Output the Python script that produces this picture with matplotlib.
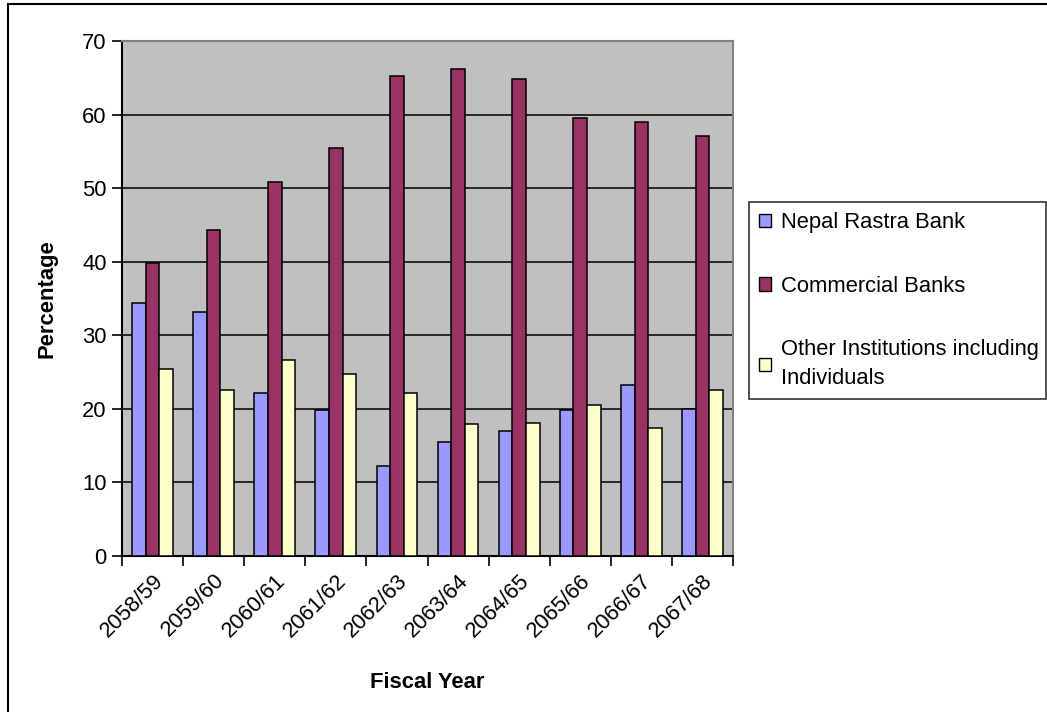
import matplotlib
matplotlib.use("Agg")
import matplotlib.pyplot as plt
from matplotlib.patches import Rectangle, Patch
import numpy as np

plt.rcParams['font.family'] = ['Liberation Sans', 'DejaVu Sans']

years = ["2058/59", "2059/60", "2060/61", "2061/62", "2062/63",
         "2063/64", "2064/65", "2065/66", "2066/67", "2067/68"]
nepal_rastra_bank = [34.4, 33.1, 22.1, 19.8, 12.3, 15.5, 17.0, 19.8, 23.3, 20.0]
commercial_banks = [39.8, 44.3, 50.8, 55.5, 65.3, 66.2, 64.8, 59.5, 59.0, 57.1]
other_institutions = [25.4, 22.6, 26.7, 24.7, 22.1, 17.9, 18.1, 20.5, 17.4, 22.6]

series_names = ["Nepal Rastra Bank", "Commercial Banks",
                "Other Institutions including\nIndividuals"]
series_colors = ["#9999FF", "#993366", "#FFFFCC"]
y_ticks = [0, 10, 20, 30, 40, 50, 60, 70]

FS = 15.8
W, H = 1047, 712
fig = plt.figure(figsize=(W / 100, H / 100), dpi=100)
ax = fig.add_axes([122 / W, 1 - 556 / H, (733 - 122) / W, (556 - 41) / H])
ax.set_facecolor("#C0C0C0")

x = np.arange(len(years))
bw = 1 / 4.5
for i, (vals, col) in enumerate(zip([nepal_rastra_bank, commercial_banks, other_institutions],
                                    series_colors)):
    ax.bar(x + (i - 1) * bw, vals, width=bw, color=col, edgecolor="black",
           linewidth=1.1, zorder=3)

ax.set_xlim(-0.5, len(years) - 0.5)
ax.set_ylim(0, 70)
ax.set_yticks(y_ticks)
ax.yaxis.grid(True, color="black", linewidth=1.1, zorder=1)
ax.set_axisbelow(True)

# category boundaries carry the tick marks, labels sit under the groups
ax.set_xticks(np.arange(-0.5, len(years)), minor=False)
ax.set_xticklabels([])
ax.set_xticks(x, minor=True)
ax.set_xticklabels(years, minor=True, rotation=45, ha="right", va="top",
                   rotation_mode="anchor", fontsize=FS)
ax.tick_params(axis="x", which="minor", length=0, pad=10)
ax.tick_params(axis="x", which="major", length=7, width=1.2, direction="out")
ax.tick_params(axis="y", length=7, width=1.2, direction="out", labelsize=FS, pad=4)

for s in ["top", "right"]:
    ax.spines[s].set_color("#808080")
    ax.spines[s].set_linewidth(1.5)
for s in ["left", "bottom"]:
    ax.spines[s].set_color("black")
    ax.spines[s].set_linewidth(1.5)

ax.set_ylabel("Percentage", fontsize=FS, fontweight="bold", labelpad=18)
ax.set_xlabel("Fiscal Year", fontsize=FS, fontweight="bold", labelpad=22)

handles = [Patch(facecolor=c, edgecolor="black", linewidth=1.0) for c in series_colors]
leg = fig.legend(handles, series_names, loc="upper left", mode="expand",
                 bbox_to_anchor=(749 / W, 1 - 202 / H, (1046 - 749) / W, 0),
                 fontsize=FS, frameon=True, fancybox=False, edgecolor="black",
                 handlelength=0.55, handleheight=0.55, handletextpad=0.45,
                 labelspacing=1.95, borderpad=0.45, borderaxespad=0)
leg.get_frame().set_linewidth(1.2)
for t in leg.get_texts():
    t.set_linespacing(1.45)

# outer chart border
fig.patches.append(Rectangle((8 / W, -0.05), 1.1, 1.05 - 4 / H,
                             transform=fig.transFigure, fill=False,
                             edgecolor="black", linewidth=1.5))

fig.savefig("out.png", dpi=100)
